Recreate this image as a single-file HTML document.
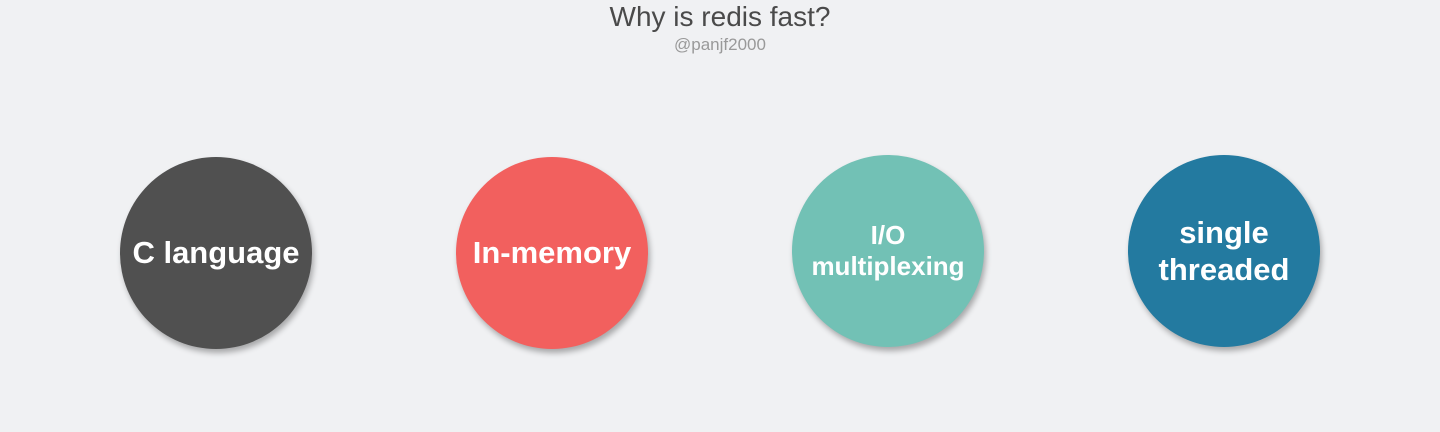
<!DOCTYPE html>
<html><head><style>
html,body{margin:0;padding:0;}
body{width:1440px;height:432px;background:#f0f1f3;position:relative;overflow:hidden;font-family:"Liberation Sans",sans-serif;}
.t{position:absolute;left:0;width:1440px;text-align:center;top:1px;font-size:28px;color:#4a4a4a;}
.s{position:absolute;left:0;width:1440px;text-align:center;top:35px;font-size:17px;color:#999;}
.c{position:absolute;width:192px;height:192px;border-radius:50%;box-shadow:2px 4px 6px rgba(0,0,0,0.3);display:flex;align-items:center;justify-content:center;text-align:center;color:#fff;font-weight:bold;font-size:31px;line-height:32px;letter-spacing:0px;}
</style></head><body>
<div class="t">Why is redis fast?</div>
<div class="s">@panjf2000</div>
<div class="c" style="left:120px;top:157px;background:#505050;">C language</div>
<div class="c" style="left:456px;top:157px;background:#f2605e;">In-memory</div>
<div class="c" style="left:792px;top:155px;background:#72c1b5;font-size:26px;line-height:31px;">I/O<br>multiplexing</div>
<div class="c" style="left:1128px;top:155px;background:#237aa0;line-height:37px;">single<br>threaded</div>
</body></html>
